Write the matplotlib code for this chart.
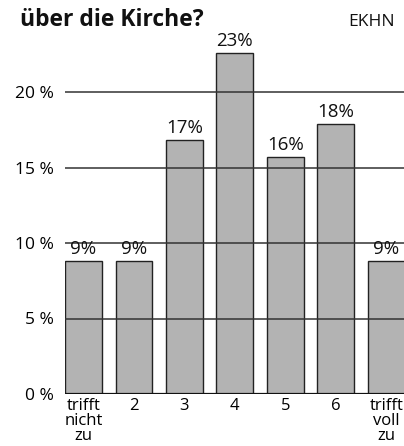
import matplotlib
matplotlib.use("Agg")
import matplotlib.pyplot as plt

plt.rcParams['font.family'] = ['Open Sans', 'DejaVu Sans']

categories = ["trifft\nnicht\nzu", "2", "3", "4", "5", "6", "trifft\nvoll\nzu"]
shares = [8.8, 8.8, 16.8, 22.6, 15.7, 17.9, 8.8]
yticks = [0, 5, 10, 15, 20]

fig = plt.figure(figsize=(4.04, 4.46), dpi=100)
ax = fig.add_axes([65 / 404, 52 / 446, 339 / 404, 362.4 / 446])

x = list(range(len(categories)))
ax.bar(x, shares, width=0.73, color="#b3b3b3", edgecolor="#222222",
       linewidth=1.0, zorder=2)

# horizontal rules over the bars, baseline in black
for t in yticks:
    ax.axhline(t, color="#111111" if t == 0 else "#333333",
               linewidth=1.6 if t == 0 else 1.1, zorder=3)

for xi, v in zip(x, shares):
    ax.text(xi, v + 0.2, f"{v:.0f}%", ha="center", va="bottom",
            fontsize=13.5, color="#111111", clip_on=False, zorder=4)

ax.set_xlim(-0.366, 6.35)
ax.set_ylim(0, 24)
ax.set_yticks(yticks)
ax.set_yticklabels([f"{t} %" for t in yticks], fontsize=12.5)
ax.set_xticks(x)
ax.set_xticklabels(categories, fontsize=12, linespacing=0.9)
ax.tick_params(axis="both", length=0)
ax.tick_params(axis="y", pad=8)
ax.tick_params(axis="x", pad=3)
for s in ax.spines.values():
    s.set_visible(False)

fig.text(20 / 404, 1 - 26 / 446, "über die Kirche?", fontsize=16.5,
         fontweight="bold", ha="left", va="baseline", color="#111111")
fig.text(395 / 404, 1 - 26 / 446, "EKHN", fontsize=12.5,
         ha="right", va="baseline", color="#111111")

fig.savefig("out.png", dpi=100)
